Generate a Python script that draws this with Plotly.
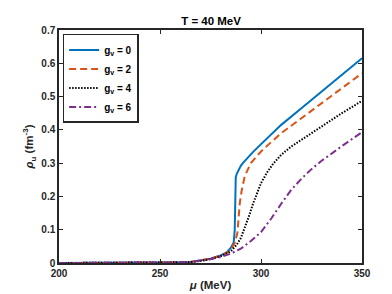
import plotly.graph_objects as go

mu_g0 = [200, 230, 260, 265, 270, 275, 280, 283, 285, 286.5, 287.0, 287.2, 287.35, 287.5, 288, 289, 290, 291, 292, 294, 296, 298, 300, 305, 310, 320, 330, 340, 350]
rho_g0 = [0.0, 0.0, 0.002, 0.003, 0.007, 0.013, 0.023, 0.032, 0.045, 0.062, 0.1, 0.18, 0.24, 0.258, 0.268, 0.282, 0.292, 0.3, 0.307, 0.32, 0.333, 0.345, 0.357, 0.388, 0.415, 0.465, 0.515, 0.565, 0.615]

mu_g2 = [200, 230, 260, 265, 270, 275, 280, 283, 285, 287, 288.3, 288.8, 289.5, 290.5, 292, 295, 300, 305, 310, 320, 330, 340, 350]
rho_g2 = [0.0, 0.0, 0.002, 0.003, 0.007, 0.013, 0.022, 0.03, 0.04, 0.06, 0.09, 0.14, 0.18, 0.22, 0.262, 0.30, 0.335, 0.363, 0.39, 0.435, 0.48, 0.525, 0.57]

mu_g4 = [200, 230, 260, 265, 270, 275, 280, 285, 288, 290, 292, 294, 296, 298, 300, 303, 306, 310, 315, 320, 330, 340, 350]
rho_g4 = [0.0, 0.0, 0.002, 0.003, 0.006, 0.012, 0.02, 0.035, 0.055, 0.075, 0.105, 0.14, 0.177, 0.21, 0.24, 0.272, 0.298, 0.325, 0.35, 0.37, 0.41, 0.45, 0.487]

mu_g6 = [200, 230, 260, 265, 270, 275, 280, 285, 290, 295, 300, 305, 310, 315, 320, 325, 330, 335, 340, 345, 350]
rho_g6 = [0.0, 0.0, 0.002, 0.003, 0.006, 0.011, 0.018, 0.028, 0.043, 0.066, 0.093, 0.133, 0.178, 0.22, 0.253, 0.282, 0.307, 0.33, 0.351, 0.372, 0.393]

series = [
    ("g<sub>v</sub> = 0", mu_g0, rho_g0, "#0072BD", "solid"),
    ("g<sub>v</sub> = 2", mu_g2, rho_g2, "#D95319", "7px,4px"),
    ("g<sub>v</sub> = 4", mu_g4, rho_g4, "#000000", "1.5px,1.5px"),
    ("g<sub>v</sub> = 6", mu_g6, rho_g6, "#7E2F8E", "7px,3px,2px,3px"),
]

x_ticks = [200, 250, 300, 350]
y_ticks = [0, 0.1, 0.2, 0.3, 0.4, 0.5, 0.6, 0.7]

fig = go.Figure()
for name, x, y, c, d in series:
    fig.add_trace(go.Scatter(x=x, y=y, mode="lines", name=name,
                             line=dict(color=c, width=2, dash=d)))

font = dict(family="Liberation Sans, Arial", size=10, color="#262626", weight="bold")
label_font = dict(family="Liberation Sans, Arial", size=11.5, color="#262626", weight="bold")
axis_common = dict(showline=True, linecolor="#262626", linewidth=1.5, mirror="allticks",
                   ticks="inside", ticklen=4, tickwidth=1, tickcolor="#262626",
                   showgrid=False, zeroline=False, tickfont=font)

fig.update_layout(
    width=392, height=294,
    margin=dict(l=51, r=38, t=22, b=33),
    paper_bgcolor="white", plot_bgcolor="white",
    title=dict(text="T = 40 MeV", x=0.518, xanchor="center", y=0.955, yanchor="middle",
               font=dict(family="Liberation Sans, Arial", size=11.5, color="#000000", weight="bold")),
    xaxis=dict(range=[200, 350], tickvals=x_ticks, ticktext=[str(v) for v in x_ticks],
               title=dict(text="<i>μ</i> (MeV)", standoff=3, font=label_font), **axis_common),
    yaxis=dict(range=[0, 0.7], tickvals=y_ticks, ticktext=["0", "0.1", "0.2", "0.3", "0.4", "0.5", "0.6", "0.7"],
               title=dict(text="<i>ρ</i><sub>u</sub> (fm<sup>-3</sup>)", standoff=5, font=label_font), **axis_common),
    legend=dict(x=0.012, y=0.983, xanchor="left", yanchor="top",
                bgcolor="white", bordercolor="#262626", borderwidth=1.5,
                font=dict(family="Liberation Sans, Arial", size=10, color="#000000", weight="bold"),
                tracegroupgap=0, itemwidth=30),
    showlegend=True,
)

fig.write_html("out.html")
